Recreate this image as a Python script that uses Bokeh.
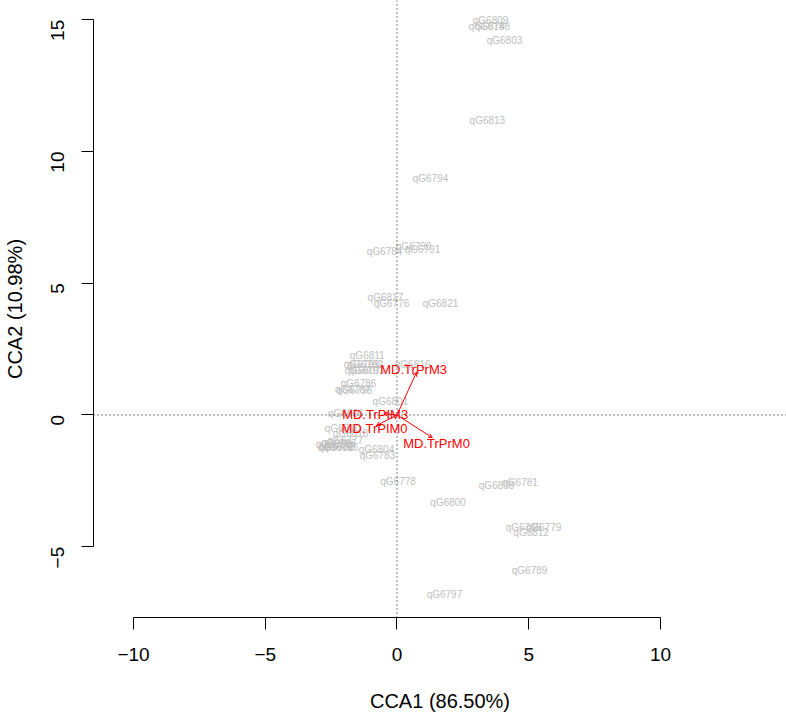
import math
from bokeh.plotting import figure
from bokeh.models import (ColumnDataSource, Range1d, FixedTicker, Span, Arrow, OpenHead)
from bokeh.core.properties import value
from bokeh.embed import file_html
from bokeh.resources import INLINE

# ---- data: site/species scores (gray labels) ----
sp_names = ["qG6809", "qG6814", "qG6788", "qG6803", "qG6813", "qG6794",
            "qG6790", "qG6784", "qG6791", "qG6817", "qG6776", "qG6821",
            "qG6811", "qG6816", "qG6799", "qG6792", "qG6807", "qG6793",
            "qG6786", "qG6798", "qG6787", "qG6801", "qG6806", "qG6810",
            "qG6818", "qG6777", "qG6780", "qG6782", "qG6785", "qG6796",
            "qG6802", "qG6804", "qG6783", "qG6778", "qG6808", "qG6781",
            "qG6800", "qG6795", "qG6779", "qG6812", "qG6789", "qG6797"]
sp_x = [3.55, 3.40, 3.62, 4.08, 3.43, 1.27,
        0.63, -0.47, 0.97, -0.44, -0.21, 1.65,
        -1.13, 0.59, -1.35, -1.20, -1.31, -1.16,
        -1.46, -1.61, -1.68, -0.25, -1.95, -2.07,
        -1.76, -1.96, -2.41, -2.30, -2.22, -2.14,
        -2.33, -0.78, -0.74, 0.04, 3.78, 4.67,
        1.94, 4.80, 5.56, 5.09, 5.03, 1.80]
sp_y = [14.97, 14.74, 14.74, 14.21, 11.18, 8.97,
        6.39, 6.20, 6.28, 4.46, 4.23, 4.23,
        2.26, 1.92, 1.92, 1.90, 1.69, 1.67,
        1.20, 0.93, 0.96, 0.51, 0.06, -0.51,
        -0.70, -0.97, -1.12, -1.20, -1.08, -1.23,
        -1.23, -1.31, -1.54, -2.51, -2.68, -2.55,
        -3.31, -4.26, -4.27, -4.45, -5.90, -6.81]

# ---- data: biplot arrows (constraints) ----
bp_names = ["MD.TrPrM3", "MD.TrPIM3", "MD.TrPIM0", "MD.TrPrM0"]
bp_x = [0.74, -0.50, -0.78, 1.34]
bp_y = [1.62, 0.05, -0.40, -0.86]
lab_x = [0.63, -0.83, -0.85, 1.50]
lab_y = [1.73, 0.02, -0.51, -1.08]

x_ticks = [-10, -5, 0, 5, 10]
y_ticks = [-5, 0, 5, 10, 15]
x_title = "CCA1 (86.50%)"
y_title = "CCA2 (10.98%)"

FONT = "Liberation Sans"

p = figure(frame_width=693, frame_height=617,
           min_border_left=93, min_border_right=0, min_border_top=0, min_border_bottom=98,
           x_range=Range1d(-11.518, 14.782), y_range=Range1d(-7.685, 15.73),
           output_backend="svg", toolbar_location=None)
p.outline_line_color = None
p.xgrid.visible = False
p.ygrid.visible = False
p.background_fill_color = "white"
p.border_fill_color = "white"

def minus(v):
    return ("\u2212" + str(abs(v))) if v < 0 else str(v)

for ax, ticks, title in ((p.xaxis[0], x_ticks, x_title), (p.yaxis[0], y_ticks, y_title)):
    ax.ticker = FixedTicker(ticks=ticks)
    ax.bounds = (min(ticks), max(ticks))
    ax.major_label_overrides = {t: minus(t) for t in ticks}
    ax.minor_tick_line_color = None
    ax.major_tick_in = 0
    ax.major_tick_out = 12
    ax.axis_line_color = "black"
    ax.major_tick_line_color = "black"
    ax.major_label_text_font = FONT
    ax.major_label_text_font_size = "19px"
    ax.major_label_text_color = "black"
    ax.axis_label = title
    ax.axis_label_text_font = FONT
    ax.axis_label_text_font_size = "20px"
    ax.axis_label_text_font_style = "normal"
    ax.axis_label_text_color = "black"

p.xaxis[0].major_label_standoff = 18
p.xaxis[0].axis_label_standoff = 26
p.yaxis[0].major_label_orientation = math.pi / 2
p.yaxis[0].major_label_standoff = 24
p.yaxis[0].axis_label_standoff = 16

# dotted reference lines
p.add_layout(Span(location=0, dimension="height", line_color="black",
                  line_width=1, line_dash="1 3"))
p.add_layout(Span(location=0, dimension="width", line_color="black",
                  line_width=1, line_dash="1 3"))

sp_src = ColumnDataSource(dict(x=sp_x, y=sp_y, t=sp_names))
p.text(x="x", y="y", text="t", source=sp_src, text_align="center",
       text_baseline="middle", text_font=value(FONT), text_font_size="10px",
       text_color="#bebebe")

arr_src = ColumnDataSource(dict(x0=[0] * len(bp_x), y0=[0] * len(bp_y), x1=bp_x, y1=bp_y))
p.add_layout(Arrow(x_start="x0", y_start="y0", x_end="x1", y_end="y1", source=arr_src,
                   line_color="red", line_width=1,
                   end=OpenHead(size=4, line_color="red", line_width=1)))

lab_src = ColumnDataSource(dict(x=lab_x, y=lab_y, t=bp_names))
p.text(x="x", y="y", text="t", source=lab_src, text_align="center",
       text_baseline="middle", text_font=value(FONT), text_font_size="13px",
       text_color="red")

open("out.html", "w").write(file_html(p, INLINE))
